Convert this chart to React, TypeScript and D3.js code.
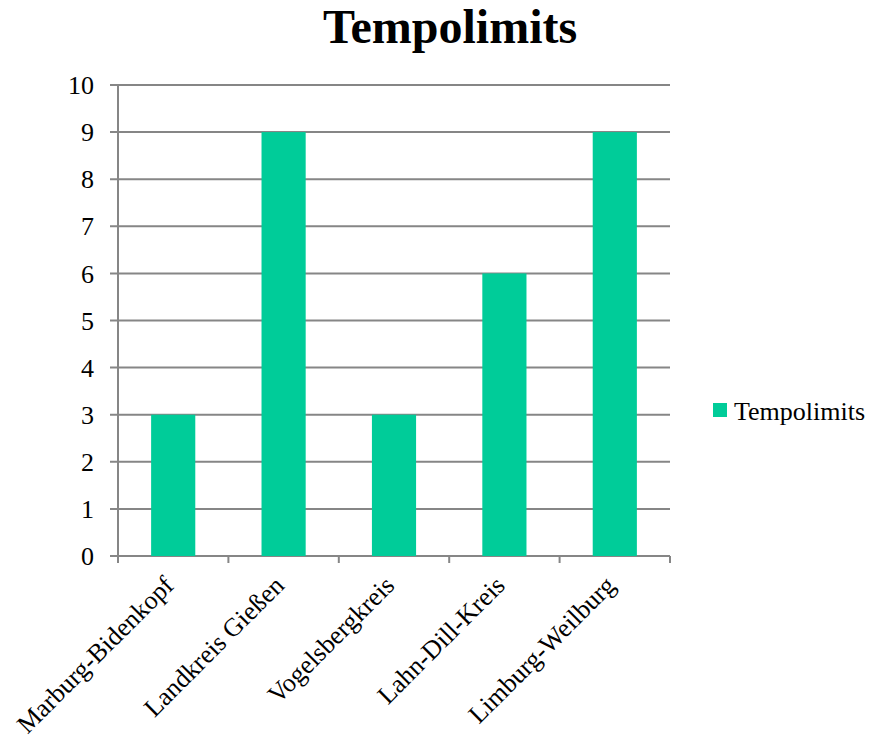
import React from "react";
import * as d3 from "d3";

const categories = ["Marburg-Bidenkopf", "Landkreis Gießen", "Vogelsbergkreis", "Lahn-Dill-Kreis", "Limburg-Weilburg"];
const values = [3, 9, 3, 6, 9];
const yTicks = [0, 1, 2, 3, 4, 5, 6, 7, 8, 9, 10];
const seriesName = "Tempolimits";
const title = "Tempolimits";

export default function App() {
  const W = 885, H = 739;
  const left = 118, right = 670, top = 85, bottom = 556;
  const x = d3.scaleBand<string>().domain(categories).range([left, right]).paddingInner(0).paddingOuter(0);
  const y = d3.scaleLinear().domain([0, 10]).range([bottom, top]);
  const bw = x.bandwidth() * 0.4;
  const grid = "#868686";
  const color = "#00CC99";
  const font = "'Liberation Serif', 'Times New Roman', serif";
  return (
    <svg width={W} height={H} style={{ position: "absolute", left: 0, top: 0, background: "#fff" }} fontFamily={font}>
      <text x={450} y={43} textAnchor="middle" fontSize={48} fontWeight="bold">{title}</text>
      {yTicks.map((t) => (
        <g key={t}>
          <line x1={left - 8} x2={right} y1={y(t)} y2={y(t)} stroke={grid} strokeWidth={2} />
          <text x={left - 24} y={y(t)} dy="0.35em" textAnchor="end" fontSize={26}>{t}</text>
        </g>
      ))}
      <line x1={left} x2={left} y1={top} y2={bottom + 7} stroke={grid} strokeWidth={2} />
      {categories.map((c, i) => (
        <line key={"t" + i} x1={(x(c) as number) + x.bandwidth()} x2={(x(c) as number) + x.bandwidth()} y1={bottom} y2={bottom + 7} stroke={grid} strokeWidth={2} />
      ))}
      {categories.map((c, i) => (
        <rect key={c} x={(x(c) as number) + (x.bandwidth() - bw) / 2} y={y(values[i])} width={bw} height={y(0) - y(values[i])} fill={color} />
      ))}
      {categories.map((c) => {
        const cx = (x(c) as number) + x.bandwidth() / 2 + 2;
        const cy = bottom + 31;
        return (
          <text key={"l" + c} transform={`translate(${cx},${cy}) rotate(-45)`} textAnchor="end" fontSize={26}>{c}</text>
        );
      })}
      <rect x={713} y={403} width={14} height={14} fill={color} />
      <text x={734} y={420} fontSize={26}>{seriesName}</text>
    </svg>
  );
}
